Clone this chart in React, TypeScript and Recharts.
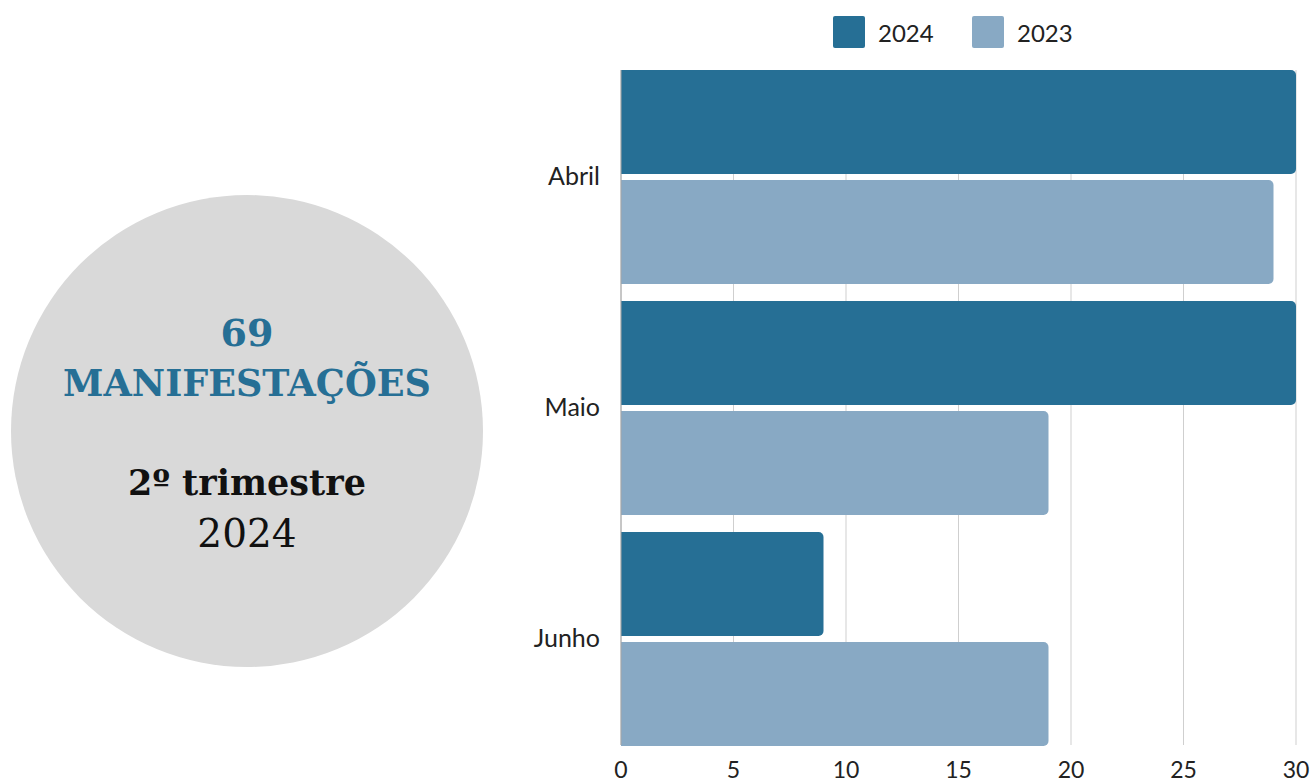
import { Bar, BarChart, CartesianGrid, XAxis, YAxis } from "recharts";

const MONTHS = ["Abril", "Maio", "Junho"];
const VALUES_2024 = [30, 30, 9];
const VALUES_2023 = [29, 19, 19];
const X_TICKS = [0, 5, 10, 15, 20, 25, 30];

const SERIES = [
  { key: "y2024", name: "2024", color: "#266f95" },
  { key: "y2023", name: "2023", color: "#88a9c4" },
];

const data = MONTHS.map((m, i) => ({
  month: m,
  y2024: VALUES_2024[i],
  y2023: VALUES_2023[i],
}));

const AXIS_FONT = "Lato, 'Open Sans', sans-serif";
const SERIF = "'DejaVu Serif', serif";

// legend drawn by hand, recharts' Legend steals space from the plot
function LegendTop() {
  const lefts = [833, 972];
  return (
    <>
      {SERIES.map((s, i) => (
        <div
          key={s.key}
          style={{
            position: "absolute",
            left: lefts[i],
            top: 16,
            display: "flex",
            alignItems: "center",
          }}
        >
          <span
            style={{
              width: 32,
              height: 32,
              background: s.color,
              borderRadius: 2,
              display: "inline-block",
            }}
          />
          <span
            style={{
              marginLeft: 13,
              fontFamily: AXIS_FONT,
              fontSize: 24,
              color: "#222",
            }}
          >
            {s.name}
          </span>
        </div>
      ))}
    </>
  );
}

export default function App() {
  return (
    <div
      style={{
        position: "absolute",
        left: 0,
        top: 0,
        width: 1312,
        height: 782,
        background: "#fff",
        overflow: "hidden",
      }}
    >
      <svg
        width={1312}
        height={782}
        style={{ position: "absolute", left: 0, top: 0 }}
      >
        <circle cx={247} cy={431} r={236} fill="#d9d9d9" />
        <text
          x={247}
          y={346}
          textAnchor="middle"
          fontFamily={SERIF}
          fontWeight="bold"
          fontSize={38}
          fill="#266f95"
        >
          69
        </text>
        <text
          x={247}
          y={396}
          textAnchor="middle"
          fontFamily={SERIF}
          fontWeight="bold"
          fontSize={36.5}
          fill="#266f95"
        >
          MANIFESTAÇÕES
        </text>
        <text
          x={247}
          y={495}
          textAnchor="middle"
          fontFamily={SERIF}
          fontWeight="bold"
          fontSize={35}
          fill="#111"
        >
          2º trimestre
        </text>
        <text
          x={247}
          y={547}
          textAnchor="middle"
          fontFamily={SERIF}
          fontSize={39}
          fill="#111"
        >
          2024
        </text>
      </svg>
      <div style={{ position: "absolute", left: 0, top: 0 }}>
        <BarChart
          width={1312}
          height={782}
          data={data}
          layout="vertical"
          margin={{ top: 70, right: 16, bottom: 7, left: 521 }}
          barCategoryGap={9}
          barGap={6}
        >
          <CartesianGrid horizontal={false} stroke="#cfcfcf" />
          <XAxis
            type="number"
            domain={[0, 30]}
            ticks={X_TICKS}
            interval={0}
            height={30}
            axisLine={false}
            tickLine={false}
            tickSize={0}
            tickMargin={17}
            tick={{ fontFamily: AXIS_FONT, fontSize: 23, fill: "#222" }}
          />
          <YAxis
            type="category"
            dataKey="month"
            width={100}
            padding={{ top: -9, bottom: -9 }}
            axisLine={{ stroke: "#a6a6a6" }}
            tickLine={false}
            tickSize={0}
            tickMargin={21}
            tick={{ fontFamily: AXIS_FONT, fontSize: 25, fill: "#222" }}
          />
          {SERIES.map((s) => (
            <Bar
              key={s.key}
              dataKey={s.key}
              name={s.name}
              fill={s.color}
              radius={[0, 5, 5, 0]}
              isAnimationActive={false}
            />
          ))}
        </BarChart>
      </div>
      <LegendTop />
    </div>
  );
}
